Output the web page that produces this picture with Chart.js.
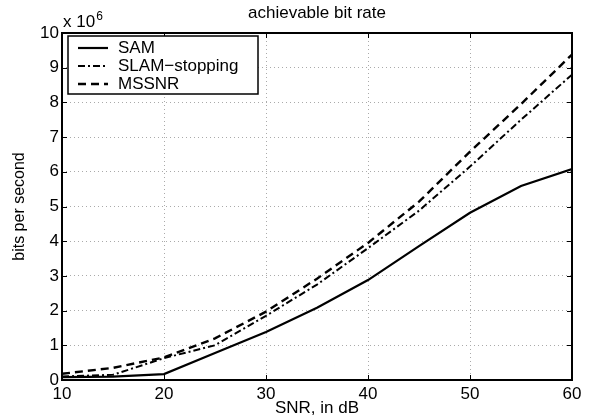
<!DOCTYPE html>
<html>
<head>
<meta charset="utf-8">
<script src="https://cdn.jsdelivr.net/npm/chart.js@4"></script>
<style>
  html, body { margin: 0; padding: 0; background: #fff; }
  #wrap { width: 590px; height: 419px; }
</style>
</head>
<body>
<div id="wrap"><canvas id="rateChart" width="590" height="419"></canvas></div>
<script>
// SNR in dB
const snr = [10, 15, 20, 25, 30, 35, 40, 45, 50, 55, 60];
// bits per second, x 10^6
const sam = [0.08, 0.1, 0.17, 0.78, 1.38, 2.08, 2.88, 3.86, 4.82, 5.59, 6.08];
const slamStopping = [0.1, 0.15, 0.63, 1.0, 1.85, 2.75, 3.8, 4.88, 6.15, 7.5, 8.8];
const mssnr = [0.18, 0.35, 0.65, 1.2, 1.97, 2.92, 3.95, 5.14, 6.58, 7.95, 9.38];
const xTicks = [10, 20, 30, 40, 50, 60];
const yTicks = [0, 1, 2, 3, 4, 5, 6, 7, 8, 9, 10];
const chartTitle = 'achievable bit rate';

const FONT = 'Liberation Sans, Arial, Helvetica, sans-serif';
const toPoints = ys => snr.map((x, i) => ({ x, y: ys[i] }));

// box, inward ticks, title, exponent and legend, MATLAB style
const matlabFrame = {
    id: 'matlabFrame',
    afterDraw(chart) {
        const { ctx, chartArea: a, scales: { x, y } } = chart;
        ctx.save();
        ctx.strokeStyle = '#000';
        ctx.lineWidth = 1;
        ctx.beginPath();
        xTicks.forEach(v => {
            const px = Math.round(x.getPixelForValue(v)) + 0.5;
            ctx.moveTo(px, a.bottom); ctx.lineTo(px, a.bottom - 5);
            ctx.moveTo(px, a.top); ctx.lineTo(px, a.top + 5);
        });
        yTicks.forEach(v => {
            const py = Math.round(y.getPixelForValue(v)) + 0.5;
            ctx.moveTo(a.left, py); ctx.lineTo(a.left + 5, py);
            ctx.moveTo(a.right, py); ctx.lineTo(a.right - 5, py);
        });
        ctx.stroke();

        ctx.lineWidth = 2;
        ctx.strokeRect(a.left, a.top, a.right - a.left, a.bottom - a.top);

        // title centred over the axes
        ctx.fillStyle = '#000';
        ctx.textAlign = 'center';
        ctx.textBaseline = 'middle';
        ctx.font = '17px ' + FONT;
        ctx.fillText(chartTitle, (a.left + a.right) / 2, 13);

        // exponent
        ctx.textBaseline = 'alphabetic';
        ctx.textAlign = 'left';
        ctx.fillText('x 10', a.left + 1, 27);
        const w = ctx.measureText('x 10').width;
        ctx.font = '12px ' + FONT;
        ctx.fillText('6', a.left + 2 + w, 20);

        // legend
        const lx = 68, ly = 36, lw = 190, lh = 58;
        ctx.fillStyle = '#fff';
        ctx.fillRect(lx, ly, lw, lh);
        ctx.lineWidth = 1.5;
        ctx.strokeRect(lx, ly, lw, lh);
        ctx.font = '17px ' + FONT;
        ctx.textBaseline = 'middle';
        chart.data.datasets.forEach((ds, i) => {
            const cy = 48 + i * 18;
            ctx.strokeStyle = '#000';
            ctx.lineWidth = ds.borderWidth;
            ctx.setLineDash(ds.borderDash || []);
            ctx.beginPath();
            ctx.moveTo(78, cy); ctx.lineTo(108, cy);
            ctx.stroke();
            ctx.setLineDash([]);
            ctx.fillStyle = '#000';
            ctx.fillText(ds.label, 118, cy);
        });
        ctx.restore();
    }
};

new Chart(document.getElementById('rateChart'), {
    type: 'line',
    data: {
        datasets: [
            {
                label: 'SAM',
                data: toPoints(sam),
                borderColor: '#000',
                borderWidth: 2.2,
                borderDash: []
            },
            {
                label: 'SLAM\u2212stopping',
                data: toPoints(slamStopping),
                borderColor: '#000',
                borderWidth: 2,
                borderDash: [7, 3, 2, 3]
            },
            {
                label: 'MSSNR',
                data: toPoints(mssnr),
                borderColor: '#000',
                borderWidth: 2.4,
                borderDash: [8, 5]
            }
        ]
    },
    options: {
        responsive: false,
        animation: false,
        elements: { point: { radius: 0 }, line: { tension: 0, fill: false } },
        layout: { padding: { left: 0, right: 18, top: 33, bottom: 0 } },
        plugins: {
            legend: { display: false },
            tooltip: { enabled: false },
            title: { display: false }
        },
        scales: {
            x: {
                type: 'linear',
                min: 10,
                max: 60,
                afterFit: s => { s.height = 39; },
                afterBuildTicks: s => { s.ticks = xTicks.map(v => ({ value: v })); },
                ticks: { color: '#000', padding: 4, font: { family: FONT, size: 17 } },
                grid: { color: '#aaaaaa', drawTicks: false, lineWidth: 1 },
                border: { display: false, dash: [1, 3] },
                title: {
                    display: true,
                    text: 'SNR, in dB',
                    color: '#000',
                    font: { family: FONT, size: 17, lineHeight: 1.2 },
                    padding: { top: 0, bottom: 0 }
                }
            },
            y: {
                min: 0,
                max: 10,
                afterFit: s => { s.width = 62; },
                afterBuildTicks: s => { s.ticks = yTicks.map(v => ({ value: v })); },
                ticks: { color: '#000', padding: 3, font: { family: FONT, size: 17 } },
                grid: { color: '#aaaaaa', drawTicks: false, lineWidth: 1 },
                border: { display: false, dash: [1, 3] },
                title: {
                    display: true,
                    text: 'bits per second',
                    color: '#000',
                    font: { family: FONT, size: 16, lineHeight: 1.2 },
                    padding: { top: 10, bottom: 0 }
                }
            }
        }
    },
    plugins: [matlabFrame]
});
</script>
</body>
</html>
